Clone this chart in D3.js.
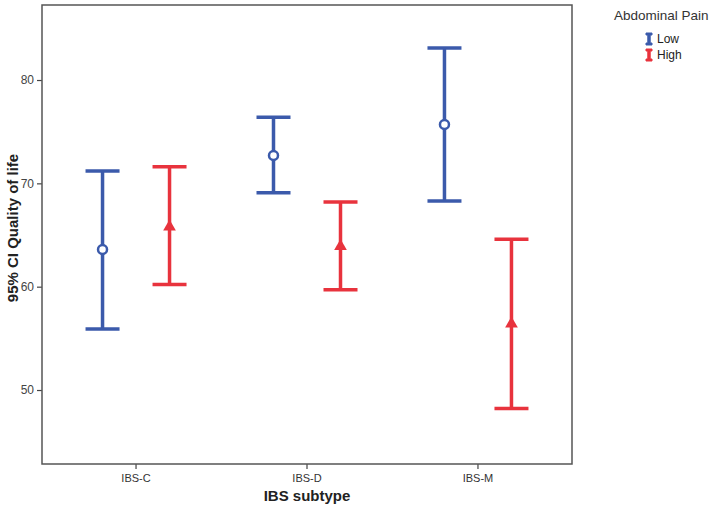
<html>
<head>
  <meta charset="utf-8">
  <title>error bars</title>
  <script src="https://d3js.org/d3.v7.min.js"></script>
  <style>
    body { margin: 0; background: #fff; }
    text { font-family: "Liberation Sans", Arial, sans-serif; }
  </style>
</head>
<body>
<script>
// data
var subtypes = ["IBS-C", "IBS-D", "IBS-M"];
var groups = ["Low", "High"];
var lowMean  = [63.6, 72.7, 75.7];
var lowLower = [55.9, 69.1, 68.3];
var lowUpper = [71.2, 76.4, 83.1];
var highMean  = [65.8, 63.9, 56.4];
var highLower = [60.2, 59.7, 48.2];
var highUpper = [71.6, 68.2, 64.6];
var yTicks = [50, 60, 70, 80];

var width = 714, height = 514;
var margin = {top: 5, right: 142, bottom: 50, left: 42};

var blue = "#3b5aab", red = "#e8333d";
var color = d3.scaleOrdinal().domain(groups).range([blue, red]);

var svg = d3.select("body").append("svg")
  .attr("width", width).attr("height", height);

var x = d3.scaleBand()
  .domain(subtypes)
  .range([margin.left, width - margin.right])
  .paddingInner(0).paddingOuter(0.05);

var xs = d3.scaleBand().domain(groups).range([-67, 67]).padding(0);

var y = d3.scaleLinear()
  .domain([42.84, 87.26])
  .range([height - margin.bottom, margin.top]);

// rows
var rows = [];
subtypes.forEach(function(s, i) {
  rows.push({sub: s, grp: "Low", mean: lowMean[i], lo: lowLower[i], hi: lowUpper[i]});
  rows.push({sub: s, grp: "High", mean: highMean[i], lo: highLower[i], hi: highUpper[i]});
});

function cx(d) { return x(d.sub) + x.bandwidth() / 2 + xs(d.grp) + xs.bandwidth() / 2; }

// axes
var yAxis = d3.axisLeft(y).tickValues(yTicks).tickSize(5).tickPadding(3);
var gy = svg.append("g").attr("transform", "translate(" + margin.left + ",0)").call(yAxis);
gy.select(".domain").remove();
gy.selectAll("line").attr("stroke", "#444").attr("stroke-width", 1.2);
gy.selectAll("text").attr("fill", "#444").style("font-size", "12px");

var xAxis = d3.axisBottom(x).tickSize(5).tickPadding(5);
var gx = svg.append("g").attr("transform", "translate(0," + (height - margin.bottom) + ")").call(xAxis);
gx.select(".domain").remove();
gx.selectAll("line").attr("stroke", "#444").attr("stroke-width", 1.2);
gx.selectAll("text").attr("fill", "#333").style("font-size", "11px");

// frame
svg.append("rect")
  .attr("x", margin.left).attr("y", margin.top)
  .attr("width", width - margin.right - margin.left)
  .attr("height", height - margin.bottom - margin.top)
  .attr("fill", "none").attr("stroke", "#555").attr("stroke-width", 1.5);

// axis titles
svg.append("text")
  .attr("x", (margin.left + width - margin.right) / 2)
  .attr("y", 501)
  .attr("text-anchor", "middle")
  .style("font-size", "15px").style("font-weight", "bold").attr("fill", "#222")
  .text("IBS subtype");

svg.append("text")
  .attr("transform", "translate(18,228) rotate(-90)")
  .attr("text-anchor", "middle")
  .style("font-size", "15px").style("font-weight", "bold").attr("fill", "#222")
  .text("95% CI Quality of life");

// error bars
var capW = 17;
var g = svg.selectAll(".bar").data(rows).enter().append("g").attr("class", "bar");

g.append("line")
  .attr("x1", cx).attr("x2", cx)
  .attr("y1", function(d) { return y(d.lo); })
  .attr("y2", function(d) { return y(d.hi); })
  .attr("stroke", function(d) { return color(d.grp); }).attr("stroke-width", 3.5);

g.append("line")
  .attr("x1", function(d) { return cx(d) - capW; }).attr("x2", function(d) { return cx(d) + capW; })
  .attr("y1", function(d) { return y(d.hi); }).attr("y2", function(d) { return y(d.hi); })
  .attr("stroke", function(d) { return color(d.grp); }).attr("stroke-width", 3.5);

g.append("line")
  .attr("x1", function(d) { return cx(d) - capW; }).attr("x2", function(d) { return cx(d) + capW; })
  .attr("y1", function(d) { return y(d.lo); }).attr("y2", function(d) { return y(d.lo); })
  .attr("stroke", function(d) { return color(d.grp); }).attr("stroke-width", 3.5);

// mean markers
g.filter(function(d) { return d.grp == "Low"; })
  .append("circle")
  .attr("cx", cx).attr("cy", function(d) { return y(d.mean); })
  .attr("r", 4.5)
  .attr("fill", "#fff").attr("stroke", blue).attr("stroke-width", 2.5);

g.filter(function(d) { return d.grp == "High"; })
  .append("path")
  .attr("d", d3.symbol().type(d3.symbolTriangle).size(70))
  .attr("transform", function(d) { return "translate(" + cx(d) + "," + y(d.mean) + ")"; })
  .attr("fill", red);

// legend
svg.append("text")
  .attr("x", 614).attr("y", 20)
  .style("font-size", "13.5px").attr("fill", "#333")
  .text("Abdominal Pain");

var lg = svg.selectAll(".leg").data(groups).enter().append("g")
  .attr("class", "leg")
  .attr("transform", function(d, i) { return "translate(649," + (39 + i * 16) + ")"; });

lg.append("path")
  .attr("d", "M-3,-6 H3 V-4 H1.2 V4 H3 V6 H-3 V4 H-1.2 V-4 H-3 Z")
  .attr("fill", function(d) { return color(d); })
  .attr("stroke", function(d) { return color(d); }).attr("stroke-width", 1);

lg.append("text")
  .attr("x", 8).attr("y", 4)
  .style("font-size", "12px").attr("fill", "#222")
  .text(function(d) { return d; });
</script>
</body>
</html>
